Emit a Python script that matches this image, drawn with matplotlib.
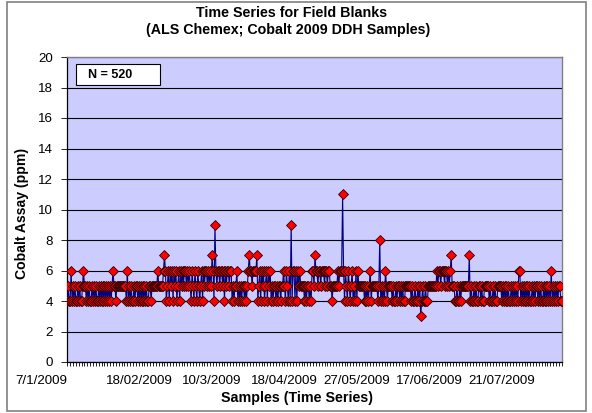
import matplotlib
matplotlib.use("Agg")
import matplotlib.pyplot as plt
from matplotlib.patches import Rectangle
from matplotlib.transforms import blended_transform_factory

plt.rcParams['font.family'] = ['Liberation Sans', 'DejaVu Sans']

# Cobalt assay values (ppm) for 520 field blanks, in time order
seg01 = [4,5,4,4,6,4,5,4,5,4,4,5,4,5,4,4,5,6,5,5,
         4,5,4,5,4,4,5,4,5,4,5,4,4,5,4,5,4,5,4,5,
         4,5,4,5,4,5,4,5,6,5,5,4,5,5,5,5,5,5,5,5,
         5,5,4,6,4,5,4,5,4,4,5,4,5,5,4,5,4,5,4,5]
seg02 = [4,5,4,5,4,4,5,5,4,5,5,5,5,5,5,6,5,5,5,5,
         5,6,7,6,4,5,6,4,6,5,6,4,6,5,6,4,5,6,4,6,
         5,6,5,6,6,5,6,5,6,5,4,6,5,4,6,5,4,6,5,4,
         5,6,4,6,5,6,6,5,6,5,6,5,7,6,4,9,6,5,6,6]
seg03 = [5,6,6,5,6,4,6,5,6,6,5,6,6,4,5,4,5,5,6,4,
         5,4,5,4,5,5,4,5,4,5,6,7,6,6,5,6,6,6,6,7,
         4,5,6,4,6,5,6,4,5,6,4,6,5,6,4,5,4,5,5,4,
         5,4,5,5,4,5,5,6,5,4,6,5,4,6,4,9,4,6,6,4]
seg04 = [6,4,6,5,6,5,5,5,5,4,5,4,5,5,4,5,4,6,6,5,
         7,6,6,5,6,6,5,6,6,6,5,6,6,5,6,6,5,5,4,5,
         5,5,5,5,6,5,6,6,6,11,6,4,6,5,4,6,5,4,5,6,
         4,5,4,6,4,6,5,5,5,5,5,5,4,5,4,5,4,5,6,4]
seg05 = [5,5,5,5,5,5,4,5,8,4,5,4,5,4,6,5,4,5,5,5,
         5,4,5,4,4,5,4,5,5,4,5,4,5,4,4,5,5,5,5,5,
         5,4,5,4,4,5,4,4,5,4,5,3,4,5,4,4,5,4,4,5,
         5,5,5,5,5,5,5,5,6,5,6,6,5,6,6,6,5,6,6,5]
seg06 = [6,5,6,7,5,5,5,4,4,5,4,4,5,4,5,5,5,5,5,5,
         5,5,7,4,5,4,4,5,4,5,4,4,5,5,4,5,4,4,5,5,
         5,5,5,4,5,4,4,5,4,5,4,4,5,5,5,5,4,5,4,5,
         4,5,4,5,4,4,5,4,5,4,5,4,5,4,6,6,4,5,4,5]
seg07 = [4,5,4,5,4,5,4,4,5,4,5,4,5,5,4,5,4,5,4,4,
         5,4,5,4,5,4,5,4,6,4,5,4,5,4,5,4,5,5,4,4]
values = seg01 + seg02 + seg03 + seg04 + seg05 + seg06 + seg07

date_labels = ["7/1/2009", "18/02/2009", "10/3/2009", "18/04/2009",
               "27/05/2009", "17/06/2009", "21/07/2009"]
label_step = 76

W, H = 592, 413
def fx(px): return px / W
def fy(py): return 1 - py / H

n = len(values)
x = list(range(n))

fig = plt.figure(figsize=(W/100, H/100), dpi=100)
fig.patch.set_facecolor('white')
ax = fig.add_axes([fx(67), fy(362), (562-67)/W, (362-57)/H])
ax.set_facecolor('#CCCCFF')

ax.plot(x, values, color='#000080', lw=0.8, zorder=3,
        marker='D', markersize=5.0, markerfacecolor='#FF0000',
        markeredgecolor='#300000', markeredgewidth=0.6)

ax.set_xlim(-0.3, n - 0.7)
ax.set_ylim(0, 20)
ax.set_yticks(range(0, 21, 2))
ax.yaxis.grid(True, color='black', lw=0.8)
ax.set_axisbelow(True)

ax.set_xticks(range(0, n, 3), minor=True)
ax.set_xticks([])
ax.tick_params(axis='x', which='minor', length=3, width=0.6, color='black')
ax.tick_params(axis='y', length=4, width=0.6, labelsize=9.6, pad=6)

tr = blended_transform_factory(ax.transData, fig.transFigure)
for i, lab in enumerate(date_labels):
    ax.text(i * label_step, fy(381), lab, transform=tr,
            ha='right' if i == 0 else 'center', va='center', fontsize=9.6)

for s in ['top', 'right']:
    ax.spines[s].set_color('#808080')
    ax.spines[s].set_linewidth(1.0)
for s in ['left', 'bottom']:
    ax.spines[s].set_color('black')
    ax.spines[s].set_linewidth(0.9)

fig.text(fx(292), fy(13), "Time Series for Field Blanks", ha='center', va='center',
         fontsize=10.3, fontweight='bold')
fig.text(fx(288), fy(30), "(ALS Chemex; Cobalt 2009 DDH Samples)", ha='center',
         va='center', fontsize=10.3, fontweight='bold')
fig.text(fx(297), fy(398), "Samples (Time Series)", ha='center', va='center',
         fontsize=10.3, fontweight='bold')
fig.text(fx(22), fy(213), "Cobalt Assay (ppm)", ha='center', va='center',
         rotation=90, fontsize=10.1, fontweight='bold')

# N label box
fig.patches.append(Rectangle((fx(76), fy(85)), (160-76)/W, (85-64)/H,
                             transform=fig.transFigure, facecolor='white',
                             edgecolor='black', lw=0.8, zorder=5))
fig.text(fx(88), fy(74.5), "N = 520", ha='left', va='center', fontsize=9.0,
         fontweight='bold', zorder=6)

fig.patches.append(Rectangle((fx(7), fy(411)), 579/W, 409/H, transform=fig.transFigure,
                             fill=False, edgecolor='#808080', lw=1.2))

fig.savefig("out.png", dpi=100)
